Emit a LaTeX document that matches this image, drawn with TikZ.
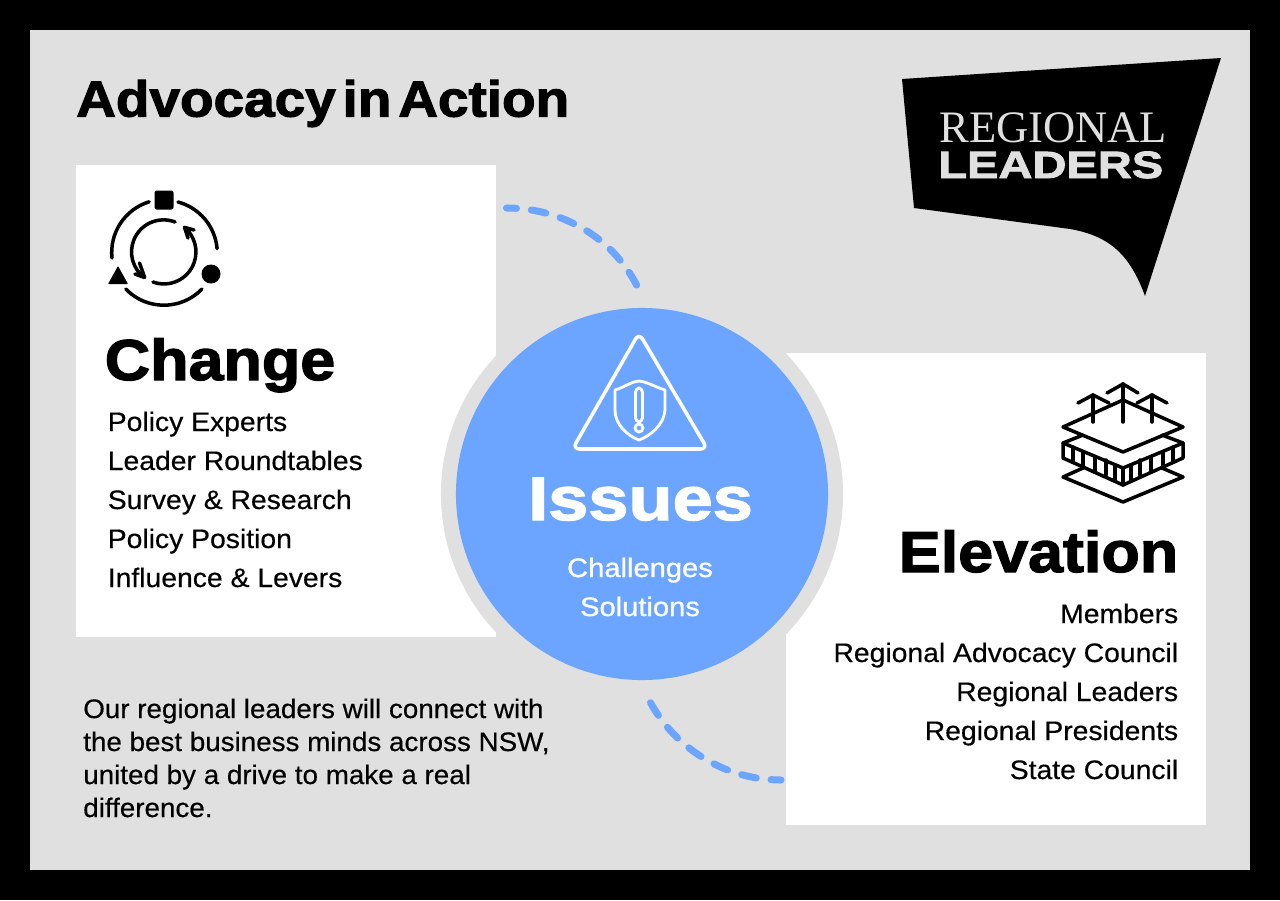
\documentclass[tikz,border=0pt]{standalone}
\usepackage{fontspec}
\setmainfont{Liberation Sans}
\usetikzlibrary{arrows.meta,positioning,shapes}
\newfontfamily\titlefont[FakeBold=2.2,FakeStretch=1.085,WordSpace=0.45]{Liberation Sans Bold}
\newfontfamily\heavyfont[FakeBold=2.2,FakeStretch=1.09]{Liberation Sans Bold}
\newfontfamily\widefont[FakeBold=2.2,FakeStretch=1.18]{Liberation Sans Bold}
\newfontfamily\bodyfont[FakeBold=0.4,FakeStretch=1.06]{Liberation Sans}
\newfontfamily\notefont[FakeBold=0.4,FakeStretch=1.04]{Liberation Sans}
\newfontfamily\semifont[FakeBold=0.9,FakeStretch=1.09]{Liberation Sans}
\newfontfamily\logofont[FakeStretch=0.99]{Liberation Serif}
\newfontfamily\logoheavy[FakeBold=2.2,FakeStretch=1.24]{Liberation Sans Bold}
\definecolor{pagegray}{RGB}{224,224,224}
\definecolor{issueblue}{RGB}{108,165,255}
\tikzset{
  % panels and discs
  panel/.style={fill=white, inner sep=0pt, minimum width=10.5cm, minimum height=11.8cm},
  disc/.style={circle, inner sep=0pt},
  % text
  titletext/.style={font=\titlefont\fontsize{36}{40}\selectfont, inner sep=0pt},
  headtext/.style={font=\heavyfont\fontsize{41}{46}\selectfont, inner sep=0pt},
  listtext/.style={font=\bodyfont\fontsize{19}{23}\selectfont, inner sep=0pt},
  notetext/.style={font=\notefont\fontsize{19}{23}\selectfont, inner sep=0pt},
  issuetext/.style={font=\semifont\fontsize{19}{23}\selectfont, text=white, inner sep=0pt},
  % dashed link
  dashlink/.style={draw=issueblue, line width=5pt, line cap=round, dash pattern=on 10.6pt off 10.6pt, dash phase=3.5pt},
  % icons
  iconline/.style={line width=2.5pt, line cap=round, line join=round},
}
\begin{document}
\begin{tikzpicture}[x=0.025cm, y=-0.025cm]
    % Frame and page
    \fill[black] (0,0) rectangle (1280,900);
    \fill[pagegray] (30,30) rectangle (1250,870);
    \useasboundingbox (0,0) rectangle (1280,900);

    % Title
    \node[titletext, anchor=base west] (title) at (76,116.5) {Advocacy in Action};

    % Logo
    \fill[black] (902,79) -- (1221,58) -- (1145,296)
        .. controls (1130,255) and (1110,236) .. (1070,229) -- (914,208) -- cycle;
    \node[font=\logofont\fontsize{32}{36}\selectfont, text=pagegray, anchor=base west, inner sep=0pt]
        (logotop) at (939,142) {REGIONAL};
    \node[font=\logoheavy\fontsize{27}{30}\selectfont, text=pagegray, anchor=base west, inner sep=0pt]
        (logobottom) at (938,178) {LEADERS};

    % Panels
    \node[panel, anchor=north west] (change) at (76,165) {};
    \node[panel, anchor=north west] (elevation) at (786,353) {};

    % Issues circle
    \node[disc, fill=pagegray, minimum size=10.05cm] (ring) at (642,494) {};
    \node[disc, fill=issueblue, minimum size=9.3cm] (issues) at (642,494) {};

    % Dashed links
    \coordinate (changeout) at (506.5,208);
    \coordinate (issuesin) at (639.5,291);
    \coordinate (elevationin) at (781,780);
    \coordinate (issuesout) at (647,696);
    \draw[dashlink] (changeout) .. controls +(57,0) and +(-24,-52) .. (issuesin);
    \draw[dashlink] (elevationin) .. controls +(-57,0) and +(25,51) .. (issuesout);

    % Change column
    \node[headtext, anchor=base west] (changehead) at (104.5,380) {Change};
    \foreach \n/\y/\t in {a/431/Policy Experts, b/470/Leader Roundtables, c/509/Survey \& Research, d/548/Policy Position, e/587/Influence \& Levers} {
        \node[listtext, anchor=base west] (change\n) at (107.5,\y) {\t};
    }

    % Elevation column
    \node[headtext, anchor=base east] (elevationhead) at (1178.5,572) {Elevation};
    \foreach \n/\y/\t in {a/623/Members, b/662/Regional Advocacy Council, c/701/Regional Leaders, d/740/Regional Presidents, e/779/State Council} {
        \node[listtext, anchor=base east] (elevation\n) at (1178.5,\y) {\t};
    }

    % Issues text
    \node[font=\widefont\fontsize{43.5}{48}\selectfont, text=white, inner sep=0pt, anchor=base] (issueshead) at (640.5,520) {Issues};
    \node[issuetext, anchor=base] (issuesa) at (640,577) {Challenges};
    \node[issuetext, anchor=base] (issuesb) at (640,616) {Solutions};

    % Note
    \node[notetext, anchor=base west] (notea) at (83,718) {Our regional leaders will connect with};
    \node[notetext, anchor=base west] (noteb) at (83,751) {the best business minds across NSW,};
    \node[notetext, anchor=base west] (notec) at (83,784) {united by a drive to make a real};
    \node[notetext, anchor=base west] (noted) at (83,817) {difference.};

    % Change icon
    \fill[black, rounded corners=1.5pt] (154.5,190.5) rectangle (173.5,209.5);
    \fill[black] (211,274) circle (9.5);
    \fill[black, rounded corners=0.5pt] (118,266) -- (128,284) -- (108,284) -- cycle;
    \draw[iconline] (112,258) arc (174:253:53);
    \draw[iconline] (178,202) arc (-75:-5:53);
    \draw[iconline] (202,289) arc (44:136:53);
    \draw[iconline] (175,222) arc (-69:-233:32) -- (135,274);
    \draw[iconline] (139.5,263) -- (144.7,277.5);
    \draw[iconline] (153,282) arc (110:-50:32) -- (194,230);
    \draw[iconline] (188,238) -- (184.6,227.5);

    % Elevation icon
    \draw[iconline] (1063,427) -- (1123,400) -- (1183,427) -- (1123,452) -- cycle;
    \draw[iconline] (1083,435) -- (1063,443) -- (1123,468) -- (1183,443) -- (1162,435);
    \draw[iconline] (1063,443) -- (1063,458) -- (1123,485) -- (1183,458) -- (1183,443);
    \draw[iconline] (1123,468) -- (1123,485);
    \foreach \x/\y in {1073/447, 1083/452, 1095/457, 1106/460, 1115/465, 1131/465, 1140/460, 1151/457, 1163/452, 1173/447} {
        \draw[iconline] (\x,\y) -- (\x,\y+15);
    }
    \draw[iconline] (1083,468) -- (1063,477) -- (1123,502) -- (1183,477) -- (1162,468);
    \draw[iconline] (1123,422) -- (1123,384);
    \draw[iconline] (1107,393) -- (1123,384) -- (1138,393);
    \draw[iconline] (1093,422) -- (1093,395);
    \draw[iconline] (1078,403) -- (1093,395) -- (1109,403);
    \draw[iconline] (1152,422) -- (1152,395);
    \draw[iconline] (1137,403) -- (1152,395) -- (1167,403);

    % Alert icon
    \draw[iconline, white, rounded corners=5pt] (639,333) -- (707.5,449) -- (572.5,449) -- cycle;
    \draw[iconline, white, line width=2pt] (639,381) .. controls (630,382) and (625,387) .. (615,390)
        -- (615,410) .. controls (615,425) and (628,436) .. (639,440)
        .. controls (650,436) and (664,425) .. (665,410) -- (665,390)
        .. controls (655,387) and (648,382) .. (639,381) -- cycle;
    \draw[iconline, white, line width=2pt, rounded corners=3pt] (635.5,388) rectangle (642.5,422);
    \draw[iconline, white, line width=2pt] (639,428) circle (4);
\end{tikzpicture}
\end{document}
